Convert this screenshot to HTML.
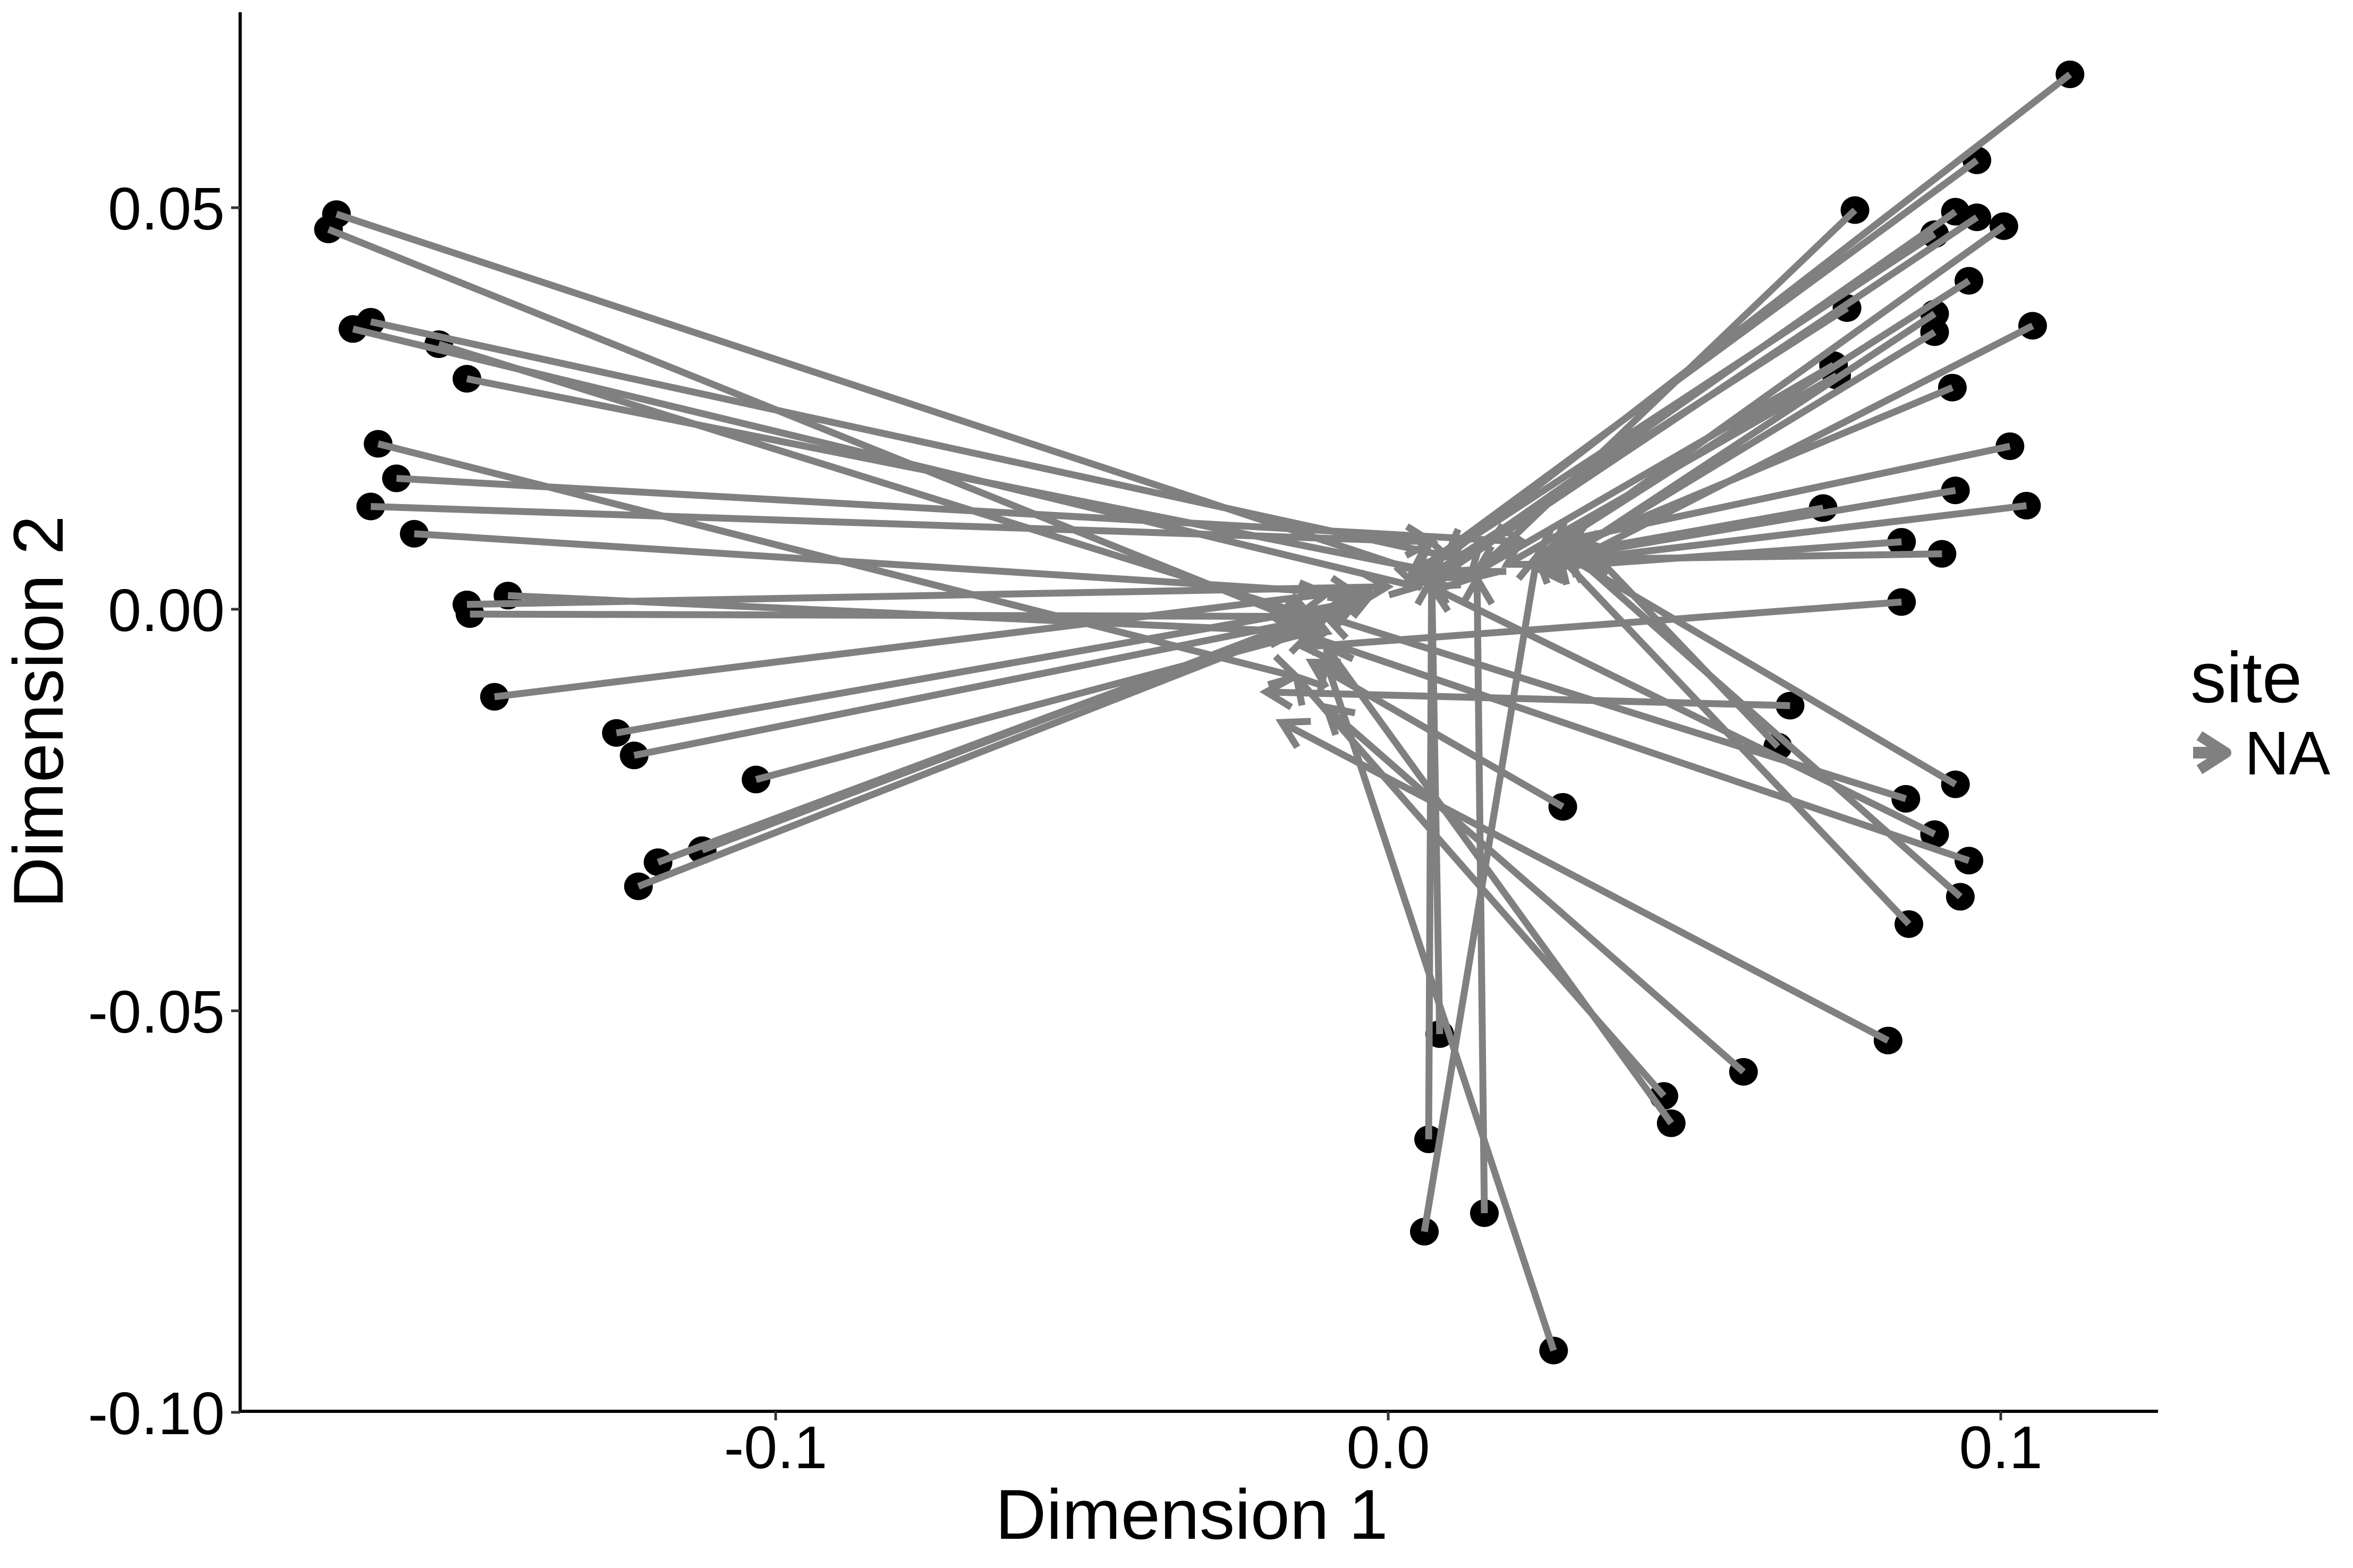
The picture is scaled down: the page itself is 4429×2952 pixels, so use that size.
<!DOCTYPE html>
<html><head><meta charset="utf-8"><style>
html,body{margin:0;padding:0;background:#fff;}
svg{display:block;}
text{font-family:"Liberation Sans",sans-serif;fill:#000;}
</style></head><body>
<svg id="chart" width="4429" height="2952" viewBox="0 0 4429 2952" xmlns="http://www.w3.org/2000/svg">
<rect width="4429" height="2952" fill="#fff"/>
<g id="arrows"></g>
<g id="axes"></g>
<text x="2243" y="2897" font-size="133" text-anchor="middle">Dimension 1</text>
<text transform="translate(118,1340) rotate(-90)" font-size="133" text-anchor="middle">Dimension 2</text>
<text x="4123" y="1322" font-size="135">site</text>
<g>
<polyline points="4128,1417 4186,1417" stroke="#808080" stroke-width="22" fill="none"/>
<polyline points="4140,1385 4190,1417 4140,1449" stroke="#808080" stroke-width="20" fill="none" stroke-linejoin="round"/>
<text x="4225" y="1458" font-size="116">NA</text>
</g>
</svg>
<script>
const xStart=[-0.1717,-0.1730,-0.1661,-0.1690,-0.1550,-0.1504,-0.1649,-0.1619,-0.1661,-0.1590,-0.1504,-0.1499,-0.1437,-0.1459,-0.1260,-0.1231,-0.1032,-0.1192,-0.1120,-0.1224,
0.1113,0.0961,0.0762,0.0926,0.0961,0.0892,0.1005,0.0948,0.0749,0.0892,0.0892,0.1052,0.0727,0.0732,0.0921,0.1015,0.0926,0.1042,0.0710,0.0838,0.0904,0.0838,0.0656,0.0636,0.0845,0.0926,0.0892,0.0948,0.0934,0.0850,
0.0285,0.0816,0.0580,0.0450,0.0462,0.0084,0.0066,0.0059,0.0157,0.0270];
const yStart=[0.0492,0.0473,0.0358,0.0349,0.0330,0.0287,0.0206,0.0163,0.0128,0.0094,0.0006,-0.0006,0.0017,-0.0109,-0.0154,-0.0182,-0.0212,-0.0315,-0.0300,-0.0345,
0.0666,0.0559,0.0497,0.0495,0.0488,0.0467,0.0477,0.0409,0.0375,0.0368,0.0345,0.0353,0.0304,0.0291,0.0276,0.0203,0.0148,0.0129,0.0126,0.0084,0.0069,0.0009,-0.0120,-0.0171,-0.0236,-0.0218,-0.0280,-0.0313,-0.0358,-0.0392,
-0.0246,-0.0537,-0.0576,-0.0606,-0.0640,-0.0529,-0.0660,-0.0775,-0.0752,-0.0923];
const xEnd=[0.0084,-0.0101,0.0096,0.0047,-0.0125,0.0133,-0.0150,0.0219,0.0071,-0.0052,-0.0002,-0.0125,-0.0150,-0.0101,-0.0052,-0.0101,-0.0125,-0.0052,-0.0027,-0.0101,
0.0096,0.0047,0.0133,0.0071,0.0096,0.0034,0.0268,0.0243,0.0059,0.0292,0.0268,0.0317,0.0145,0.0194,0.0292,0.0280,0.0292,0.0243,0.0268,0.0243,0.0317,-0.0138,-0.0199,0.0317,-0.0101,0.0292,0.0071,-0.0150,0.0292,0.0280,
-0.0125,-0.0174,-0.0101,-0.0150,-0.0101,0.0071,0.0071,0.0243,0.0145,-0.0101];
const yEnd=[0.0038,-0.0028,0.0066,0.0028,-0.0009,0.0038,-0.0084,0.0084,0.0084,0.0019,0.0028,-0.0009,-0.0028,0.0019,0.0009,-0.0009,-0.0028,0.0009,0.0019,-0.0009,
0.0066,0.0047,0.0038,0.0038,0.0047,0.0038,0.0075,0.0066,0.0038,0.0066,0.0056,0.0066,0.0047,0.0056,0.0075,0.0084,0.0066,0.0056,0.0066,0.0051,0.0062,-0.0047,-0.0103,0.0084,-0.0009,0.0066,0.0028,-0.0028,0.0075,0.0066,
-0.0066,-0.0141,-0.0122,-0.0084,-0.0047,0.0038,0.0056,0.0066,0.0038,-0.0066];
const xTicks=[-0.1,0.0,0.1];
const xTickLabels=["-0.1","0.0","0.1"];
const yTicks=[0.05,0.0,-0.05,-0.10];
const yTickLabels=["0.05","0.00","-0.05","-0.10"];

const NS="http://www.w3.org/2000/svg";
const X=v=>2613+v*11530;
const Y=v=>1147-v*15120;
function mk(tag,attrs,parent){const e=document.createElementNS(NS,tag);for(const k in attrs)e.setAttribute(k,attrs[k]);parent.appendChild(e);return e;}
const ag=document.getElementById('arrows');
const dotsG=mk('g',{},ag);


const linesG=mk('g',{},ag);


for(let i=0;i<xStart.length;i++){
  const x1=X(xStart[i]),y1=Y(yStart[i]),x2=X(xEnd[i]),y2=Y(yEnd[i]);
  const c=mk('ellipse',{cx:x1,cy:y1,rx:27,ry:26,fill:'#000'},dotsG);
  
  
  const ang=Math.atan2(y2-y1,x2-x1),L=55,a=Math.PI/6;
  const ax=x2-L*Math.cos(ang-a),ay=y2-L*Math.sin(ang-a),bx=x2-L*Math.cos(ang+a),by=y2-L*Math.sin(ang+a);
  const p=mk('path',{d:`M${x1},${y1}L${x2},${y2}M${ax},${ay}L${x2},${y2}L${bx},${by}`,stroke:'#808080','stroke-width':13,fill:'none','stroke-linejoin':'miter'},linesG);
  
  
}
const axg=document.getElementById('axes');
const yl=mk('line',{x1:452,y1:23,x2:452,y2:2660,stroke:'#000','stroke-width':6},axg);


const xl=mk('line',{x1:449,y1:2657,x2:4062,y2:2657,stroke:'#000','stroke-width':6},axg);


xTicks.forEach((v,i)=>{
  const t=mk('line',{x1:X(v),y1:2657,x2:X(v),y2:2674,stroke:'#333','stroke-width':5},axg);
  
  
  const tx=mk('text',{x:X(v),y:2764,'font-size':113,'text-anchor':'middle'},axg);
  tx.textContent=xTickLabels[i];
  
  
});
yTicks.forEach((v,i)=>{
  const t=mk('line',{x1:435,y1:Y(v),x2:452,y2:Y(v),stroke:'#333','stroke-width':5},axg);
  
  
  const tx=mk('text',{x:423,y:Y(v)+41,'font-size':113,'text-anchor':'end'},axg);
  tx.textContent=yTickLabels[i];
  
  
});
</script>
</body></html>
